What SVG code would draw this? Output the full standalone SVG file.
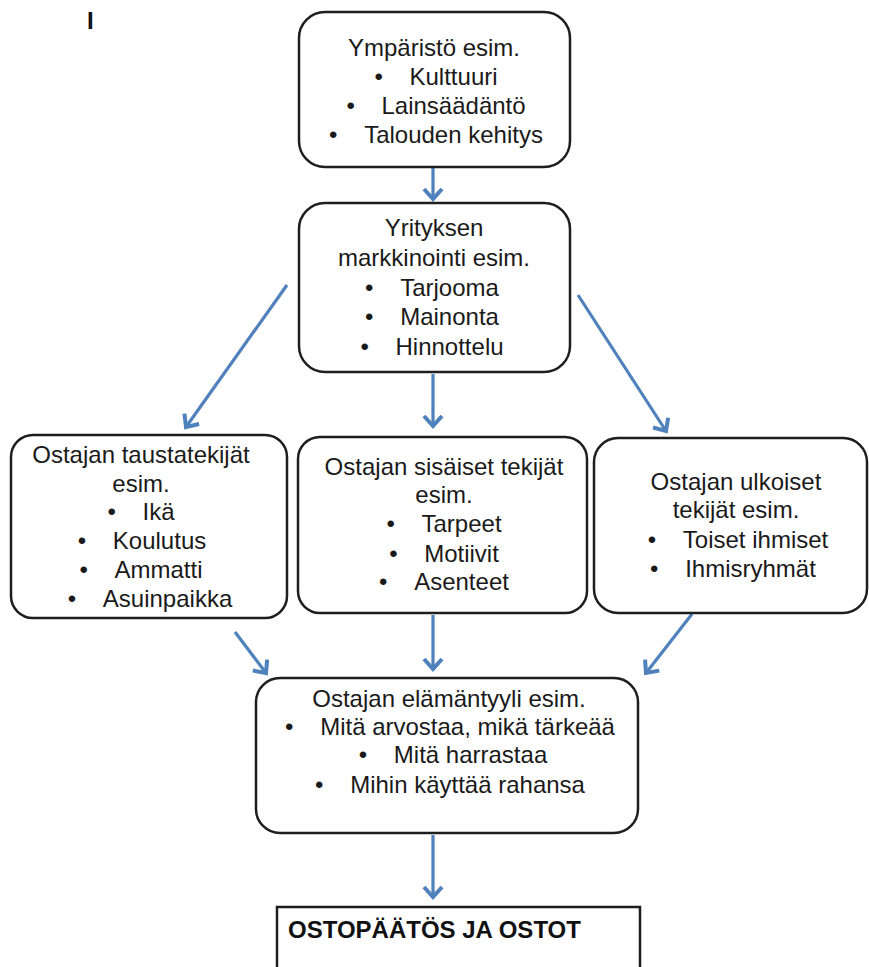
<svg xmlns="http://www.w3.org/2000/svg" width="869" height="967" viewBox="0 0 869 967">
<style>
.box{fill:#fff;stroke:#1e1e1e;stroke-width:2.5}
.t{font-family:"Liberation Sans",Arial,sans-serif;font-size:24px;fill:#1a1a1a;text-anchor:middle}
.b{font-family:"Liberation Sans",Arial,sans-serif;font-size:24px;font-weight:bold;fill:#111}
.c{stroke:#4F81BD;stroke-width:3.2;fill:none;marker-end:url(#ah)}
</style>
<defs>
<marker id="ah" markerUnits="userSpaceOnUse" markerWidth="24" markerHeight="24" viewBox="-14 -12 18 24" refX="0" refY="0" orient="auto">
<path d="M -10 -9 L 0 0 L -10 9" fill="none" stroke="#4F81BD" stroke-width="4" stroke-linejoin="miter"/>
</marker>
</defs>
<rect width="869" height="967" fill="#fff"/>
<text class="b" x="87" y="29" font-size="23">I</text>
<g id="connectors">
<line class="c" x1="433" y1="168" x2="433" y2="199"/>
<line class="c" x1="287" y1="285" x2="186" y2="427"/>
<line class="c" x1="433" y1="374" x2="433" y2="426"/>
<line class="c" x1="578" y1="295" x2="666" y2="431"/>
<line class="c" x1="235" y1="632" x2="266" y2="673"/>
<line class="c" x1="433" y1="615" x2="433" y2="669"/>
<line class="c" x1="692" y1="614" x2="646" y2="673"/>
<line class="c" x1="433" y1="835" x2="433" y2="897"/>
</g>
<g id="ymparisto">
<rect class="box" x="299" y="12" width="271" height="155" rx="26"/>
<text class="t" x="434" y="56">Ympäristö esim.</text>
<text class="t" x="436" y="85">•&#160;&#160;&#160;&#160;Kulttuuri</text>
<text class="t" x="436" y="114">•&#160;&#160;&#160;&#160;Lainsäädäntö</text>
<text class="t" x="436" y="143">•&#160;&#160;&#160;&#160;Talouden kehitys</text>
</g>
<g id="markkinointi">
<rect class="box" x="299" y="203" width="271" height="169" rx="26"/>
<text class="t" x="434" y="236">Yrityksen</text>
<text class="t" x="434" y="266">markkinointi esim.</text>
<text class="t" x="432" y="296">•&#160;&#160;&#160;&#160;Tarjooma</text>
<text class="t" x="432" y="325">•&#160;&#160;&#160;&#160;Mainonta</text>
<text class="t" x="432" y="355">•&#160;&#160;&#160;&#160;Hinnottelu</text>
</g>
<g id="taustatekijat">
<rect class="box" x="11" y="435" width="276" height="183" rx="22"/>
<text class="t" x="141" y="463">Ostajan taustatekijät</text>
<text class="t" x="141" y="492">esim.</text>
<text class="t" x="141" y="520">•&#160;&#160;&#160;&#160;Ikä</text>
<text class="t" x="142" y="549">•&#160;&#160;&#160;&#160;Koulutus</text>
<text class="t" x="141" y="578">•&#160;&#160;&#160;&#160;Ammatti</text>
<text class="t" x="150" y="607">•&#160;&#160;&#160;&#160;Asuinpaikka</text>
</g>
<g id="sisaiset">
<rect class="box" x="298" y="437" width="289" height="176" rx="22"/>
<text class="t" x="444" y="475">Ostajan sisäiset tekijät</text>
<text class="t" x="444" y="503">esim.</text>
<text class="t" x="444" y="532">•&#160;&#160;&#160;&#160;Tarpeet</text>
<text class="t" x="444" y="562">•&#160;&#160;&#160;&#160;Motiivit</text>
<text class="t" x="444" y="590">•&#160;&#160;&#160;&#160;Asenteet</text>
</g>
<g id="ulkoiset">
<rect class="box" x="594" y="438" width="273" height="175" rx="24"/>
<text class="t" x="736" y="490">Ostajan ulkoiset</text>
<text class="t" x="736" y="518">tekijät esim.</text>
<text class="t" x="738" y="548">•&#160;&#160;&#160;&#160;Toiset ihmiset</text>
<text class="t" x="733" y="577">•&#160;&#160;&#160;&#160;Ihmisryhmät</text>
</g>
<g id="elamantyyli">
<rect class="box" x="256" y="678" width="382" height="155" rx="24"/>
<text class="t" x="449" y="707">Ostajan elämäntyyli esim.</text>
<text class="t" x="450" y="735">•&#160;&#160;&#160;&#160;Mitä arvostaa, mikä tärkeää</text>
<text class="t" x="453" y="763">•&#160;&#160;&#160;&#160;Mitä harrastaa</text>
<text class="t" x="450" y="793">•&#160;&#160;&#160;&#160;Mihin käyttää rahansa</text>
</g>
<g id="ostopaatos">
<rect x="277" y="907" width="363" height="80" fill="#fff" stroke="#1e1e1e" stroke-width="2.5"/>
<text class="b" x="288" y="938">OSTOPÄÄTÖS JA OSTOT</text>
</g>
</svg>
